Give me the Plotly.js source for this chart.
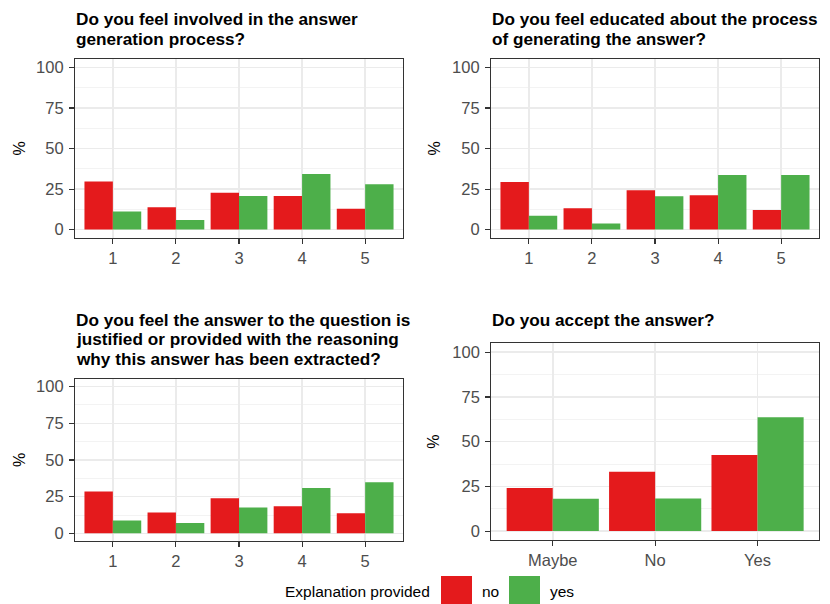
<!DOCTYPE html>
<html>
<head>
<meta charset="utf-8">
<script src="https://cdn.plot.ly/plotly-3.0.1.min.js"></script>
<style>html,body{margin:0;padding:0;background:#fff}#chart{width:830px;height:604px}</style>
</head>
<body>
<div id="chart"></div>
<script>
// ---- data ----
const scaleCats = ['1', '2', '3', '4', '5'];
const involvedNo = [29.7, 13.7, 22.7, 20.7, 12.9];
const involvedYes = [11.1, 5.9, 20.7, 34.2, 27.9];
const educatedNo = [29.3, 13.1, 24.2, 21.1, 12.1];
const educatedYes = [8.6, 3.7, 20.5, 33.6, 33.6];
const justifiedNo = [28.6, 14.2, 24.0, 18.5, 13.7];
const justifiedYes = [8.7, 7.1, 17.6, 30.9, 34.8];
const acceptCats = ['Maybe', 'No', 'Yes'];
const acceptNo = [24.1, 33.2, 42.5];
const acceptYes = [18.0, 18.2, 63.6];
const yTickVals = [0, 25, 50, 75, 100];
const yTickText = ['0', '25', '50', '75', '100'];
const groupNames = ['no', 'yes'];
const legendTitle = 'Explanation provided';
const titles = [
  ['Do you feel involved in the answer', 'generation process?'],
  ['Do you feel educated about the process', 'of generating the answer?'],
  ['Do you feel the answer to the question is', 'justified or provided with the reasoning', 'why this answer has been extracted?'],
  ['Do you accept the answer?']
];

// ---- style ----
const W = 830, H = 604;
const RED = '#E41A1C', GREEN = '#4DAF4A';
const FONT = 'Liberation Sans, Arial, Helvetica, sans-serif';
const TICKSIZE = 16.5;
const px = x => x / W;
const py = y => 1 - y / H;

const panels = [
  {cats: scaleCats, no: involvedNo, yes: involvedYes, x: [75, 403], y: [59.3, 237.7], titleY: [19.5, 39.1], titleX: 75, pctX: 19},
  {cats: scaleCats, no: educatedNo, yes: educatedYes, x: [491, 819], y: [59.3, 237.7], titleY: [19.5, 39.1], titleX: 491, pctX: 434},
  {cats: scaleCats, no: justifiedNo, yes: justifiedYes, x: [75, 403], y: [379.3, 540.7], titleY: [319.8, 339.4, 359], titleX: 75, pctX: 19},
  {cats: acceptCats, no: acceptNo, yes: acceptYes, x: [491.3, 819], y: [343.3, 540], titleY: [319.8], titleX: 491, pctX: 434}
];

const data = [];
const layout = {
  width: W, height: H,
  margin: {l: 0, r: 0, t: 0, b: 0},
  paper_bgcolor: '#fff', plot_bgcolor: '#fff',
  barmode: 'group', bargap: 0.1, bargroupgap: 0,
  showlegend: false,
  font: {family: FONT, color: '#000'},
  annotations: [], shapes: []
};

panels.forEach((p, i) => {
  const n = i + 1;
  const xa = 'x' + (n === 1 ? '' : n), ya = 'y' + (n === 1 ? '' : n);
  const xk = 'xaxis' + (n === 1 ? '' : n), yk = 'yaxis' + (n === 1 ? '' : n);
  data.push({type: 'bar', x: p.cats, y: p.no, name: groupNames[0], xaxis: xa, yaxis: ya,
             marker: {color: RED, line: {width: 0}}, hoverinfo: 'x+y+name'});
  data.push({type: 'bar', x: p.cats, y: p.yes, name: groupNames[1], xaxis: xa, yaxis: ya,
             marker: {color: GREEN, line: {width: 0}}, hoverinfo: 'x+y+name'});
  layout[xk] = {
    domain: [px(p.x[0]), px(p.x[1])], anchor: ya, type: 'category',
    range: [-0.6, p.cats.length - 0.4],
    showline: true, mirror: true, linecolor: '#333333', linewidth: 1.1,
    showgrid: true, gridcolor: '#ebebeb', gridwidth: 1.6, zeroline: false,
    ticks: 'outside', ticklen: 5, tickwidth: 1.1, tickcolor: '#333333',
    tickfont: {family: FONT, size: TICKSIZE, color: '#4d4d4d'}, ticklabelstandoff: 0,
    fixedrange: true
  };
  layout[yk] = {
    domain: [py(p.y[1]), py(p.y[0])], anchor: xa,
    range: [-5, 105], tickmode: 'array', tickvals: yTickVals, ticktext: yTickText,
    showline: true, mirror: true, linecolor: '#333333', linewidth: 1.1,
    showgrid: true, gridcolor: '#ebebeb', gridwidth: 1.6, zeroline: false,
    ticks: 'outside', ticklen: 5, tickwidth: 1.1, tickcolor: '#333333',
    tickfont: {family: FONT, size: TICKSIZE, color: '#4d4d4d'}, ticklabelstandoff: 2,
    minor: {tickmode: 'array', tickvals: [12.5, 37.5, 62.5, 87.5], showgrid: true, gridcolor: '#f0f0f0', gridwidth: 0.8, ticks: ''},
    fixedrange: true
  };
  titles[i].forEach((line, k) => {
    layout.annotations.push({
      xref: 'paper', yref: 'paper', x: px(p.titleX), y: py(p.titleY[k]),
      xanchor: 'left', yanchor: 'middle', showarrow: false, borderpad: 0,
      text: '<b>' + line + '</b>', font: {family: FONT, size: 17.2, color: '#000'}
    });
  });
  layout.annotations.push({
    xref: 'paper', yref: 'paper', x: px(p.pctX), y: py((p.y[0] + p.y[1]) / 2),
    xanchor: 'center', yanchor: 'middle', showarrow: false, textangle: -90,
    text: '%', font: {family: FONT, size: 16, color: '#000'}
  });
});

// legend (bottom)
layout.annotations.push({xref: 'paper', yref: 'paper', x: px(284), y: py(591.5), xanchor: 'left', yanchor: 'middle',
  showarrow: false, borderpad: 0, text: legendTitle, font: {family: FONT, size: 15.5, color: '#000'}});
layout.annotations.push({xref: 'paper', yref: 'paper', x: px(481), y: py(591.5), xanchor: 'left', yanchor: 'middle',
  showarrow: false, borderpad: 0, text: groupNames[0], font: {family: FONT, size: 15.5, color: '#000'}});
layout.annotations.push({xref: 'paper', yref: 'paper', x: px(548.5), y: py(591.5), xanchor: 'left', yanchor: 'middle',
  showarrow: false, borderpad: 0, text: groupNames[1], font: {family: FONT, size: 15.5, color: '#000'}});
layout.shapes.push({type: 'rect', xref: 'paper', yref: 'paper', x0: px(441), x1: px(472), y0: py(607), y1: py(576),
  fillcolor: RED, line: {width: 0}});
layout.shapes.push({type: 'rect', xref: 'paper', yref: 'paper', x0: px(509), x1: px(540), y0: py(607), y1: py(576),
  fillcolor: GREEN, line: {width: 0}});

Plotly.newPlot('chart', data, layout, {displayModeBar: false, staticPlot: true});
</script>
</body>
</html>
